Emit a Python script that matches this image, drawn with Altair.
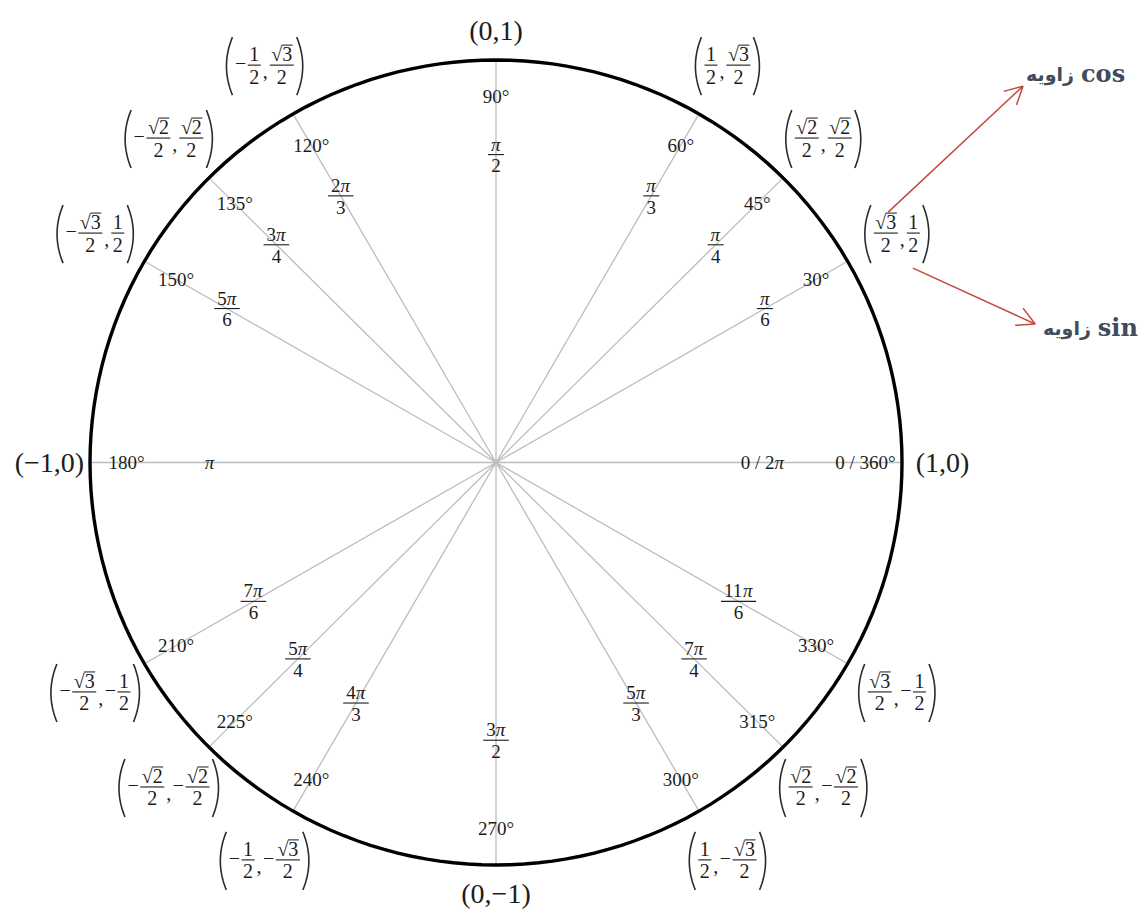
import math
import altair as alt
import pandas as pd

# ---------------- values ----------------
angles_deg = [0, 30, 45, 60, 90, 120, 135, 150, 180, 210, 225, 240, 270, 300, 315, 330]
degree_labels = ["0 / 360°", "30°", "45°", "60°", "90°", "120°", "135°", "150°",
                 "180°", "210°", "225°", "240°", "270°", "300°", "315°", "330°"]
radian_numerators = ["0 / 2π", "π", "π", "π", "π", "2π", "3π", "5π",
                     "π", "7π", "5π", "4π", "3π", "5π", "7π", "11π"]
radian_denominators = ["", "6", "4", "3", "2", "3", "4", "6",
                       "", "6", "4", "3", "2", "3", "4", "6"]
cos_values = ["1", "√3/2", "√2/2", "1/2", "0", "-1/2", "-√2/2", "-√3/2",
              "-1", "-√3/2", "-√2/2", "-1/2", "0", "1/2", "√2/2", "√3/2"]
sin_values = ["0", "1/2", "√2/2", "√3/2", "1", "√3/2", "√2/2", "1/2",
              "0", "-1/2", "-√2/2", "-√3/2", "-1", "-√3/2", "-√2/2", "-1/2"]

annotation_functions = ["cos", "sin"]
annotation_words = ["زاویه", "زاویه"]
annotation_x = [1.4335, 1.475]
annotation_y = [0.963, 0.332]
arrow_x0 = [0.966, 1.027]
arrow_y0 = [0.622, 0.483]
arrow_x1 = [1.298, 1.328]
arrow_y1 = [0.935, 0.344]

# ---------------- layout ----------------
W, H = 1132, 906
XMIN, XMAX = -1.2020, 1.5862
YMIN, YMAX = -1.1217, 1.1292
KX = W / (XMAX - XMIN)
KY = H / (YMAX - YMIN)

FONT = "Liberation Serif"
INK = "#1c1c1c"
FS_DEG, FS_RAD, FS_CO, FS_AX = 19, 19, 20, 28
R_DEG, R_CO = 0.91, 1.14
R_AX_H, R_AX_V = 1.10, 1.072

CW = {"π": 0.53, "√": 0.549, "−": 0.564, ",": 0.25, "/": 0.278, "°": 0.4, " ": 0.25}


def tw(s, fs):
    return sum(CW.get(c, 0.5) for c in s) * fs


def off(x, y, ox, oy):
    """shift a data point by ox px to the right and oy px downwards"""
    return x + ox / KX, y - oy / KY


texts, bars, parens = [], [], []


def add_text(x, y, t, fs, st="normal", al="center"):
    texts.append(dict(x=x, y=y, t=t, fs=fs, st=st, al=al))


def add_bar(x, y, ox0, ox1, oy, w=1.1):
    a, b = off(x, y, ox0, oy)
    c, _ = off(x, y, ox1, oy)
    bars.append(dict(x=a, x2=c, y=b, w=w))


# degree labels
for a, lab in zip(angles_deg, degree_labels):
    th = math.radians(a)
    cx, cy = R_DEG * math.cos(th), R_DEG * math.sin(th)
    x, y = off(cx, cy, 0, 0.338 * FS_DEG)
    add_text(x, y, lab, FS_DEG)

# radian labels
for a, num, den in zip(angles_deg, radian_numerators, radian_denominators):
    th = math.radians(a)
    s = math.sin(th)
    if den == "":
        r = 0.657 if a == 0 else 0.705
        cx, cy = r * math.cos(th), r * math.sin(th)
        coef = num[:-1]
        wn = tw(coef, FS_RAD) + tw("π", FS_RAD)
        left = -wn / 2
        if coef:
            x, y = off(cx, cy, left, 0.338 * FS_RAD)
            add_text(x, y, coef, FS_RAD, al="left")
        x, y = off(cx, cy, left + tw(coef, FS_RAD), 0.338 * FS_RAD)
        add_text(x, y, "π", FS_RAD, st="italic", al="left")
        continue
    r = 0.765 if s > 0.1 else (0.69 if s < -0.1 else 0.7)
    cx, cy = r * math.cos(th), r * math.sin(th)
    coef = num[:-1]
    wn = tw(coef, FS_RAD) + tw("π", FS_RAD)
    wd = tw(den, FS_RAD)
    bw = max(wn, wd) + 6
    add_bar(cx, cy, -bw / 2, bw / 2, 0)
    left = -wn / 2
    if coef:
        x, y = off(cx, cy, left, -4)
        add_text(x, y, coef, FS_RAD, al="left")
    x, y = off(cx, cy, left + tw(coef, FS_RAD), -4)
    add_text(x, y, "π", FS_RAD, st="italic", al="left")
    x, y = off(cx, cy, 0, 5 + 0.676 * FS_RAD)
    add_text(x, y, den, FS_RAD)


def parse(v):
    neg = v.startswith("-")
    v = v.lstrip("-")
    if "/" in v:
        n, d = v.split("/")
    else:
        n, d = v, None
    return neg, n, d


def plain(v):
    return v.replace("-", "−")


# coordinate labels
gid = 0
PH = 58
for a, cv, sv in zip(angles_deg, cos_values, sin_values):
    th = math.radians(a)
    if a % 90 == 0:
        r = R_AX_H if a % 180 == 0 else R_AX_V
        cx, cy = r * math.cos(th), r * math.sin(th)
        x, y = off(cx, cy, 0, 0.338 * FS_AX)
        add_text(x, y, "(" + plain(cv) + "," + plain(sv) + ")", FS_AX)
        continue
    cx, cy = R_CO * math.cos(th), R_CO * math.sin(th)
    els = [("lp", 9)]
    for i, v in enumerate([cv, sv]):
        if i == 1:
            els.append(("comma", tw(",", FS_CO) + 2))
        neg, n, d = parse(v)
        if neg:
            els.append(("minus", tw("−", FS_CO) + 1))
        els.append(("frac", max(tw(n, FS_CO), tw(d, FS_CO)) + 5, n, d))
    els.append(("rp", 9))
    total = sum(e[1] for e in els)
    pos = -total / 2
    for e in els:
        kind, w = e[0], e[1]
        mid = pos + w / 2
        if kind in ("lp", "rp"):
            gid += 1
            for k in range(25):
                t = -1 + 2 * k / 24
                oy = 1 + t * PH / 2
                if kind == "lp":
                    ox = pos + 1 + 6 * t * t
                else:
                    ox = pos + w - 1 - 6 * t * t
                px, py = off(cx, cy, ox, oy)
                parens.append(dict(x=px, y=py, g=gid, o=k))
        elif kind == "comma":
            x, y = off(cx, cy, mid, 13)
            add_text(x, y, ",", FS_CO)
        elif kind == "minus":
            x, y = off(cx, cy, mid, 0.25 * FS_CO)
            add_text(x, y, "−", FS_CO)
        else:
            n, d = e[2], e[3]
            add_bar(cx, cy, pos + 1, pos + w - 1, 0)
            x, y = off(cx, cy, mid, -4)
            add_text(x, y, n, FS_CO)
            x, y = off(cx, cy, mid, 5 + 0.676 * FS_CO)
            add_text(x, y, d, FS_CO)
            if n.startswith("√"):
                left = mid - tw(n, FS_CO) / 2
                add_bar(cx, cy, left + tw("√", FS_CO) - 0.5, left + tw(n, FS_CO) + 0.5,
                        -4 - 0.80 * FS_CO, w=1.0)
        pos += w

# ---------------- frames ----------------
text_df = pd.DataFrame(texts)
bar_df = pd.DataFrame(bars)
paren_df = pd.DataFrame(parens)

circle_df = pd.DataFrame({
    "x": [math.cos(math.radians(k)) for k in range(0, 361, 2)],
    "y": [math.sin(math.radians(k)) for k in range(0, 361, 2)],
    "o": list(range(0, 361, 2)),
})
spoke_df = pd.DataFrame({
    "x": [0.0] * len(angles_deg),
    "y": [0.0] * len(angles_deg),
    "x2": [math.cos(math.radians(a)) for a in angles_deg],
    "y2": [math.sin(math.radians(a)) for a in angles_deg],
})

# arrows (shaft + open head)
arrow_rows = []
for x0, y0, x1, y1 in zip(arrow_x0, arrow_y0, arrow_x1, arrow_y1):
    arrow_rows.append(dict(x=x0, y=y0, x2=x1, y2=y1))
    dxp, dyp = (x1 - x0) * KX, (y1 - y0) * KY
    ang = math.atan2(dyp, dxp)
    for s in (-1, 1):
        b = ang + math.pi + s * math.radians(28)
        arrow_rows.append(dict(x=x1, y=y1, x2=x1 + 20 * math.cos(b) / KX,
                               y2=y1 + 20 * math.sin(b) / KY))
arrow_df = pd.DataFrame(arrow_rows)

fa_rows, fn_rows = [], []
for fn, word, ax, ay in zip(annotation_functions, annotation_words, annotation_x, annotation_y):
    x, y = off(ax, ay, -4, 0)
    fa_rows.append(dict(x=x, y=y, t=word))
    x, y = off(ax, ay, 3, 0)
    fn_rows.append(dict(x=x, y=y, t=fn))
fa_df = pd.DataFrame(fa_rows)
fn_df = pd.DataFrame(fn_rows)

xs = alt.Scale(domain=[XMIN, XMAX], nice=False, zero=False)
ys = alt.Scale(domain=[YMIN, YMAX], nice=False, zero=False)
X = alt.X("x:Q", scale=xs, axis=None)
Y = alt.Y("y:Q", scale=ys, axis=None)

spokes = alt.Chart(spoke_df).mark_rule(color="#bdbdbd", strokeWidth=1.3).encode(
    x=X, y=Y, x2="x2:Q", y2="y2:Q")
circle = alt.Chart(circle_df).mark_line(color="#000000", strokeWidth=3.4).encode(
    x=X, y=Y, order="o:Q")
bar_layer = alt.Chart(bar_df).mark_rule(color=INK).encode(
    x=X, y=Y, x2="x2:Q", strokeWidth=alt.StrokeWidth("w:Q", scale=None, legend=None))
paren_layer = alt.Chart(paren_df).mark_line(color="#2a2a2a", strokeWidth=1.6).encode(
    x=X, y=Y, detail="g:N", order="o:Q")

layers = [spokes, circle, bar_layer, paren_layer]
for st in ("normal", "italic"):
    for al in ("center", "left"):
        sub = text_df[(text_df.st == st) & (text_df.al == al)]
        if len(sub) == 0:
            continue
        layers.append(
            alt.Chart(sub).mark_text(align=al, baseline="alphabetic", font=FONT,
                                     fontStyle=st, color=INK).encode(
                x=X, y=Y, text="t:N",
                size=alt.Size("fs:Q", scale=None, legend=None)))

arrows = alt.Chart(arrow_df).mark_rule(color="#c24a3e", strokeWidth=1.5).encode(
    x=X, y=Y, x2="x2:Q", y2="y2:Q")
ann_fa = alt.Chart(fa_df).mark_text(font="DejaVu Sans", fontWeight="bold",
                                    fontSize=19, color="#414b5c", align="right",
                                    baseline="middle").encode(x=X, y=Y, text="t:N")
ann_fn = alt.Chart(fn_df).mark_text(font="DejaVu Serif", fontWeight="bold",
                                    fontSize=24, color="#414b5c", align="left",
                                    baseline="middle").encode(x=X, y=Y, text="t:N")
layers += [arrows, ann_fa, ann_fn]

chart = alt.layer(*layers).properties(
    width=W, height=H, padding=0, autosize=alt.AutoSizeParams(type="none"),
    background="white",
).configure_view(stroke=None)

chart.save("out.html", embed_options={"renderer": "svg", "actions": False})
